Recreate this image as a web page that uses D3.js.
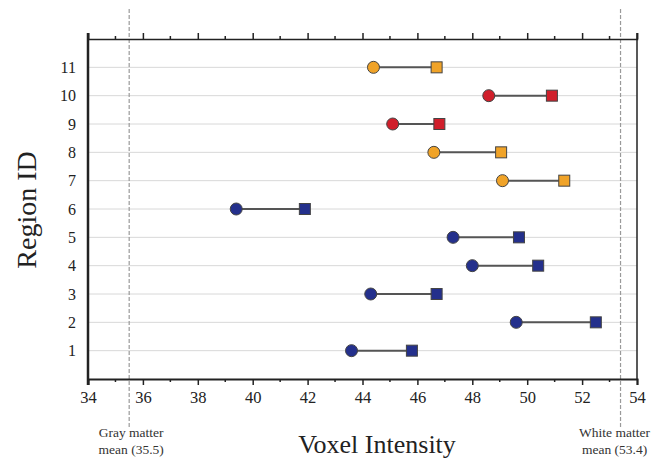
<!DOCTYPE html>
<html>
<head>
<meta charset="utf-8">
<script src="https://cdn.jsdelivr.net/npm/d3@7"></script>
<style>
  body { margin: 0; background: #fff; }
  text { font-family: "Liberation Serif", "Times New Roman", serif; }
</style>
</head>
<body>
<div id="chart"></div>
<script>
const regions = [1, 2, 3, 4, 5, 6, 7, 8, 9, 10, 11];
const startVals = [43.6, 49.6, 44.3, 48.0, 47.3, 39.4, 49.1, 46.6, 45.1, 48.6, 44.4];
const endVals = [45.8, 52.5, 46.7, 50.4, 49.7, 41.9, 51.35, 49.05, 46.8, 50.9, 46.7];
const groups = ['blue', 'blue', 'blue', 'blue', 'blue', 'blue', 'orange', 'orange', 'red', 'red', 'orange'];
const xTicks = [34, 36, 38, 40, 42, 44, 46, 48, 50, 52, 54];
const refLines = [
  { value: 35.5, label: ['Gray matter', 'mean (35.5)'] },
  { value: 53.4, label: ['White matter', 'mean (53.4)'] }
];

const w = 660, h = 460,
    plotLeft = 88, plotRight = 637, plotTop = 39, plotBottom = 379;

const colors = { blue: '#24308c', orange: '#f0a328', red: '#d01f2b' };

const data = regions.map((r, i) => ({ id: r, a: startVals[i], b: endVals[i], g: groups[i] }));

const svg = d3.select('#chart').append('svg')
    .attr('width', w)
    .attr('height', h);

const x = d3.scaleLinear().domain([34, 54]).range([plotLeft, plotRight]);
const y = d3.scaleLinear().domain([0, 12]).range([plotBottom, plotTop]);

// horizontal grid lines
svg.append('g')
  .selectAll('line')
  .data(regions)
  .join('line')
    .attr('x1', plotLeft).attr('x2', plotRight)
    .attr('y1', d => y(d)).attr('y2', d => y(d))
    .attr('stroke', '#d8d8d8')
    .attr('stroke-width', 1);

// reference dashed lines
svg.append('g')
  .selectAll('line')
  .data(refLines)
  .join('line')
    .attr('x1', d => x(d.value)).attr('x2', d => x(d.value))
    .attr('y1', 9).attr('y2', 428)
    .attr('stroke', '#9a9a9a')
    .attr('stroke-width', 1.2)
    .attr('stroke-dasharray', '4,2');

// bottom axis
const minor = d3.range(35, 54, 2);
const bottomAxis = svg.append('g')
    .attr('transform', 'translate(0,' + plotBottom + ')')
    .call(d3.axisBottom(x).tickValues(xTicks).tickSize(6).tickFormat(d3.format('d')));
bottomAxis.select('.domain').attr('stroke', '#222').attr('stroke-width', 2);
bottomAxis.selectAll('.tick line').attr('stroke', '#222').attr('stroke-width', 1.5);
bottomAxis.selectAll('.tick text')
    .attr('dy', '0')
    .attr('y', 24)
    .style('font-size', '16.5px')
    .style('font-family', 'Liberation Serif')
    .attr('fill', '#222');
bottomAxis.selectAll('.minor')
  .data(minor)
  .join('line')
    .attr('class', 'minor')
    .attr('x1', d => x(d)).attr('x2', d => x(d))
    .attr('y1', 0).attr('y2', 3)
    .attr('stroke', '#222').attr('stroke-width', 1.5);

// top axis
const topAxis = svg.append('g')
    .attr('transform', 'translate(0,' + plotTop + ')')
    .call(d3.axisTop(x).tickValues(xTicks).tickSize(6).tickFormat(''));
topAxis.select('.domain').attr('stroke', '#222').attr('stroke-width', 1.5);
topAxis.selectAll('.tick line').attr('stroke', '#222').attr('stroke-width', 1.5);
topAxis.selectAll('.minor')
  .data(minor)
  .join('line')
    .attr('class', 'minor')
    .attr('x1', d => x(d)).attr('x2', d => x(d))
    .attr('y1', 0).attr('y2', -3)
    .attr('stroke', '#222').attr('stroke-width', 1.5);

// left axis
const leftAxis = svg.append('g')
    .attr('transform', 'translate(' + plotLeft + ',0)')
    .call(d3.axisLeft(y).tickValues(regions).tickSize(0).tickPadding(12).tickFormat(d3.format('d')));
leftAxis.select('.domain').remove();
leftAxis.selectAll('.tick text')
    .style('font-size', '16px')
    .style('font-family', 'Liberation Serif')
    .attr('fill', '#222');
svg.append('line')
    .attr('x1', plotLeft).attr('x2', plotLeft)
    .attr('y1', plotTop - 6).attr('y2', plotBottom + 6)
    .attr('stroke', '#222').attr('stroke-width', 2.5);

// right frame
svg.append('line')
    .attr('x1', plotRight).attr('x2', plotRight)
    .attr('y1', plotTop - 6).attr('y2', plotBottom)
    .attr('stroke', '#222').attr('stroke-width', 1.5);

// connectors
const marks = svg.append('g');
marks.selectAll('.link')
  .data(data)
  .join('line')
    .attr('class', 'link')
    .attr('x1', d => x(d.a)).attr('x2', d => x(d.b))
    .attr('y1', d => y(d.id)).attr('y2', d => y(d.id))
    .attr('stroke', '#555')
    .attr('stroke-width', 2);

marks.selectAll('.dot')
  .data(data)
  .join('circle')
    .attr('class', 'dot')
    .attr('cx', d => x(d.a))
    .attr('cy', d => y(d.id))
    .attr('r', 6)
    .attr('fill', d => colors[d.g])
    .attr('stroke', '#444')
    .attr('stroke-width', 1);

const sq = 11;
marks.selectAll('.sq')
  .data(data)
  .join('rect')
    .attr('class', 'sq')
    .attr('x', d => x(d.b) - sq / 2)
    .attr('y', d => y(d.id) - sq / 2)
    .attr('width', sq).attr('height', sq)
    .attr('fill', d => colors[d.g])
    .attr('stroke', '#444')
    .attr('stroke-width', 1);

// reference labels
const refText = svg.append('g')
  .selectAll('text')
  .data(refLines)
  .join('text')
    .attr('x', (d, i) => x(d.value) + (i === 0 ? 2 : -6))
    .attr('y', 437)
    .attr('text-anchor', 'middle')
    .style('font-size', '13.5px')
    .attr('fill', '#333');
refText.selectAll('tspan')
  .data(d => d.label)
  .join('tspan')
    .attr('x', function () { return d3.select(this.parentNode).attr('x'); })
    .attr('dy', (d, i) => i === 0 ? 0 : 17)
    .text(d => d);

// axis titles
svg.append('text')
    .attr('x', 377)
    .attr('y', 453)
    .attr('text-anchor', 'middle')
    .style('font-size', '26px')
    .attr('fill', '#222')
    .text('Voxel Intensity');

svg.append('text')
    .attr('transform', 'translate(36,210) rotate(-90)')
    .attr('text-anchor', 'middle')
    .style('font-size', '28px')
    .attr('fill', '#222')
    .text('Region ID');
</script>
</body>
</html>
